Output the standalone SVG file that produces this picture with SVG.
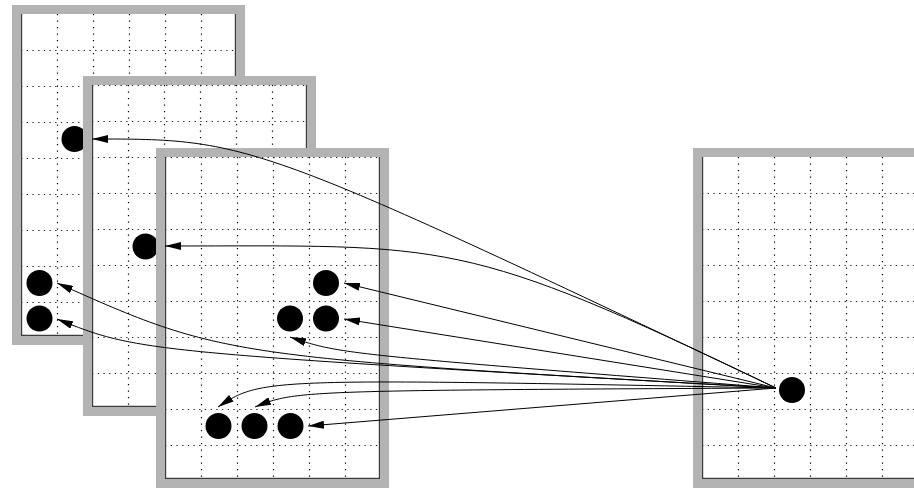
<svg xmlns="http://www.w3.org/2000/svg" xmlns:xlink="http://www.w3.org/1999/xlink" width="914" height="489" viewBox="0 0 914 489">
  <style>
    .border { fill: #b3b3b3; }
    .paper { fill: #ffffff; }
    .edge { fill: none; stroke: #3c3c3c; stroke-width: 1.2; }
    .vgrid { fill: none; stroke: #000; stroke-width: 1.2; stroke-dasharray: 1.3 5.2; }
    .hgrid { fill: none; stroke: #222; stroke-width: 1.2; stroke-dasharray: 1.3 4.4; }
    .dot { fill: #000; }
    .link { fill: none; stroke: #000; stroke-width: 1; marker-end: url(#head); }
  </style>
  <defs>
    <marker id="head" viewBox="0 0 16 8" refX="16" refY="4" markerWidth="16" markerHeight="8" markerUnits="userSpaceOnUse" orient="auto">
      <path d="M0,0 L16,4 L0,8 Z" fill="#000"/>
    </marker>
    <!-- one sheet: grey frame, white paper, dotted 36px grid; origin at the paper's top-left corner -->
    <g id="sheet">
      <rect class="border" x="-9" y="-9" width="233" height="340"/>
      <rect class="paper" x="0" y="0" width="215" height="322"/>
      <path class="vgrid" d="M36.5,0 V322 M72.5,0 V322 M108.5,0 V322 M144.5,0 V322 M180.5,0 V322"/>
      <path class="hgrid" d="M0,36.5 H215 M0,72.5 H215 M0,108.5 H215 M0,144.5 H215 M0,180.5 H215 M0,216.5 H215 M0,252.5 H215 M0,288.5 H215"/>
      <path class="edge" d="M0.6,0 V321.4 H214.4 V0"/>
    </g>
  </defs>

  <!-- back sheet -->
  <g id="sheet1">
    <use xlink:href="#sheet" href="#sheet" transform="translate(21,14)"/>
    <g id="s1-a"><circle class="dot" cx="74.5" cy="139" r="13"/></g>
    <g id="s1-b"><circle class="dot" cx="39.5" cy="283" r="13"/></g>
    <g id="s1-c"><circle class="dot" cx="39.5" cy="318.5" r="13"/></g>
  </g>

  <!-- middle sheet -->
  <g id="sheet2">
    <use xlink:href="#sheet" href="#sheet" transform="translate(92,85)"/>
    <path class="hgrid" d="M92,85.5 H307"/>
    <g id="s2-a"><circle class="dot" cx="145.5" cy="246.5" r="13"/></g>
  </g>

  <!-- front sheet -->
  <g id="sheet3">
    <use xlink:href="#sheet" href="#sheet" transform="translate(165,157)"/>
    <path class="hgrid" d="M165,157.5 H380"/>
    <g id="s3-a"><circle class="dot" cx="326" cy="283" r="13"/></g>
    <g id="s3-b"><circle class="dot" cx="290" cy="318.5" r="13"/></g>
    <g id="s3-c"><circle class="dot" cx="326" cy="318.5" r="13"/></g>
    <g id="s3-d"><circle class="dot" cx="218.5" cy="426" r="13"/></g>
    <g id="s3-e"><circle class="dot" cx="254.5" cy="426" r="13"/></g>
    <g id="s3-f"><circle class="dot" cx="290.5" cy="426" r="13"/></g>
  </g>

  <!-- source sheet on the right -->
  <g id="sheet4">
    <use xlink:href="#sheet" href="#sheet" transform="translate(702,157)"/>
    <g id="s4-src"><circle class="dot" cx="792" cy="390" r="13"/></g>
  </g>

  <!-- connectors from the source dot -->
  <g id="links">
    <path class="link" d="M776,388 C251,139 251,139 92,139"/>
    <path class="link" d="M776,388 C460,236 450,246 165,246"/>
    <path class="link" d="M776,388 C223,357 223,357 57,283"/>
    <path class="link" d="M776,388 C139,352 139,352 57,319"/>
    <path class="link" d="M776,388 L344,283"/>
    <path class="link" d="M776,388 C340,354 340,354 290,337"/>
    <path class="link" d="M776,388 L344,319"/>
    <path class="link" d="M776,388 C262,378 262,378 218,407"/>
    <path class="link" d="M776,388 C296,390.5 296,390.5 255,407"/>
    <path class="link" d="M776,388 L308,426"/>
  </g>
</svg>
